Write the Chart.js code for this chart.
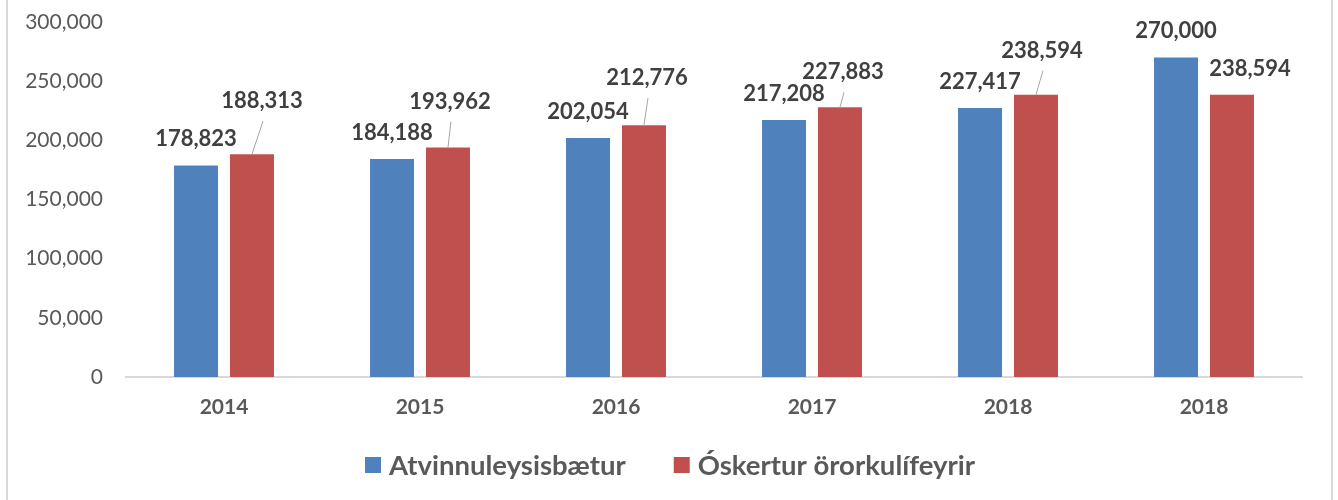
<!DOCTYPE html>
<html>
<head>
<meta charset="utf-8">
<script src="https://cdn.jsdelivr.net/npm/chart.js@4/dist/chart.umd.min.js"></script>
<style>
  html, body { margin: 0; padding: 0; background: #ffffff; }
  #wrap { position: relative; width: 1338px; height: 500px; }
  #frame { position: absolute; left: 6px; top: 0; width: 1323px; height: 500px;
           border-left: 2px solid #d9d9d9; border-right: 2px solid #d9d9d9; pointer-events: none; }
  canvas { position: absolute; left: 0; top: 0; }
</style>
</head>
<body>
<div id="wrap">
  <canvas id="c" width="1338" height="500"></canvas>
  <div id="frame"></div>
</div>
<script>
const categories = ['2014', '2015', '2016', '2017', '2018', '2018'];
const atvinnuleysisbaetur = [178823, 184188, 202054, 217208, 227417, 270000];
const oskerturOrorkulifeyrir = [188313, 193962, 212776, 227883, 238594, 238594];
const seriesNames = ['Atvinnuleysisbætur', 'Óskertur örorkulífeyrir'];
const yTicks = [0, 50000, 100000, 150000, 200000, 250000, 300000];

const FONT = 'Lato, "Open Sans", sans-serif';
const fmt = v => v.toLocaleString('en-US');

const labelPlugin = {
  id: 'barLabels',
  afterDatasetsDraw(chart, args, opts) {
    const ctx = chart.ctx;
    ctx.save();
    ctx.font = 'bold 22px ' + FONT;
    ctx.fillStyle = '#404040';
    ctx.textAlign = 'center';
    ctx.textBaseline = 'middle';
    chart.data.datasets.forEach((ds, di) => {
      const meta = chart.getDatasetMeta(di);
      const off = opts.offsets[di];
      meta.data.forEach((el, i) => {
        const o = off[i];
        const lx = el.x + o[0];
        const ly = el.y + o[1];
        if (o[2]) {
          ctx.strokeStyle = '#a6a6a6';
          ctx.lineWidth = 1;
          ctx.beginPath();
          ctx.moveTo(el.x, el.y);
          ctx.lineTo(lx + 1, ly + 20);
          ctx.stroke();
        }
        ctx.fillText(fmt(ds.data[i]), lx, ly);
      });
    });
    ctx.restore();
  }
};

const legendPlugin = {
  id: 'bottomLegend',
  afterDraw(chart, args, opts) {
    const ctx = chart.ctx;
    ctx.save();
    ctx.font = 'bold ' + opts.size + 'px ' + FONT;
    ctx.textBaseline = 'middle';
    ctx.textAlign = 'left';
    const items = chart.data.datasets.map(d => ({ text: d.label, color: d.backgroundColor,
                                                   w: ctx.measureText(d.label).width }));
    let total = 0;
    items.forEach((it, i) => { total += opts.box + opts.gap + it.w + (i ? opts.spacing : 0); });
    let x = opts.center - total / 2;
    items.forEach((it, i) => {
      if (i) x += opts.spacing;
      ctx.fillStyle = it.color;
      ctx.fillRect(x, opts.y - opts.box / 2, opts.box, opts.box);
      x += opts.box + opts.gap;
      ctx.fillStyle = '#595959';
      ctx.fillText(it.text, x, opts.y + 1);
      x += it.w;
    });
    ctx.restore();
  }
};

new Chart(document.getElementById('c'), {
  type: 'bar',
  data: {
    labels: categories,
    datasets: [
      { label: seriesNames[0], data: atvinnuleysisbaetur, backgroundColor: '#4f81bd',
        categoryPercentage: 0.571, barPercentage: 0.786 },
      { label: seriesNames[1], data: oskerturOrorkulifeyrir, backgroundColor: '#c0504d',
        categoryPercentage: 0.571, barPercentage: 0.786 }
    ]
  },
  plugins: [labelPlugin, legendPlugin],
  options: {
    responsive: false,
    animation: false,
    layout: { padding: { left: 0, right: 36, top: 22, bottom: 83 } },
    plugins: {
      tooltip: { enabled: false },
      legend: { display: false },
      bottomLegend: { size: 27.5, box: 16, gap: 8, spacing: 48, center: 670, y: 465 },
      barLabels: {
        offsets: [
          [[0,-26,false],[0,-26,false],[0,-26,false],[0,-26,false],[0,-26,false],[0,-27,false]],
          [[10,-53,true],[2,-46,true],[3,-47,true],[3,-35,true],[6,-44,true],[18,-26,false]]
        ]
      }
    },
    scales: {
      x: {
        afterFit(s) { s.height = 40; },
        grid: { display: false, drawTicks: false },
        border: { display: true, color: '#d9d9d9', width: 2 },
        ticks: { color: '#595959', padding: 18, font: { family: FONT, size: 21, weight: 'bold' } }
      },
      y: {
        min: 0, max: 300000,
        afterFit(s) { s.width = 126; s.paddingTop = 0; s.paddingBottom = 0; },
        afterBuildTicks(s) { s.ticks = yTicks.map(v => ({ value: v })); },
        grid: { display: false, drawTicks: false },
        border: { display: false },
        ticks: { color: '#595959', padding: 23, font: { family: FONT, size: 21 },
                 callback: v => fmt(v) }
      }
    }
  }
});
</script>
</body>
</html>
